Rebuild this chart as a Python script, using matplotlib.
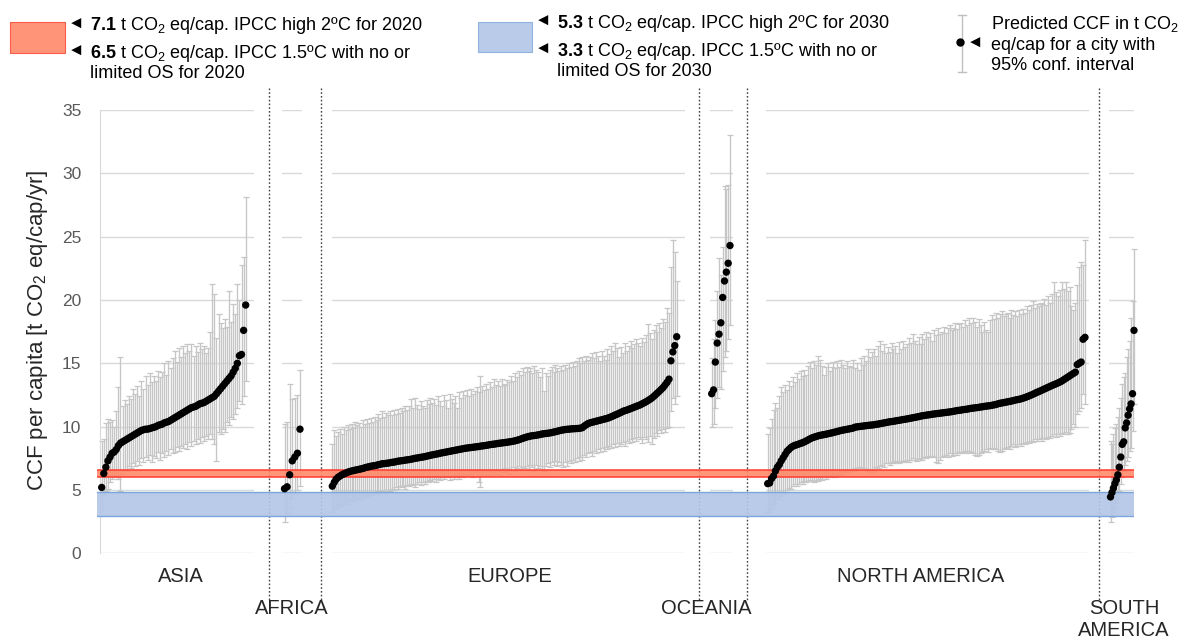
import matplotlib
matplotlib.use('Agg')
import matplotlib.pyplot as plt
from matplotlib.lines import Line2D
from matplotlib.patches import Rectangle
import numpy as np

plt.rcParams['font.family'] = ['Liberation Sans', 'DejaVu Sans']
plt.rcParams['mathtext.fontset'] = 'custom'
plt.rcParams['mathtext.rm'] = 'Liberation Sans'
plt.rcParams['mathtext.bf'] = 'Liberation Sans:bold'
plt.rcParams['mathtext.it'] = 'Liberation Sans:italic'

# ---------------- data ----------------
asia_ccf = [5.2, 6.3, 6.8, 7.3, 7.6, 7.9, 8.0, 8.2, 8.5, 8.7,
            8.8, 8.9, 9.0, 9.1, 9.2, 9.3, 9.4, 9.5, 9.6, 9.7,
            9.75, 9.8, 9.8, 9.85, 9.9, 9.95, 10.0, 10.1, 10.15, 10.2,
            10.3, 10.35, 10.4, 10.5, 10.6, 10.7, 10.8, 10.9, 11.0, 11.1,
            11.2, 11.3, 11.4, 11.5, 11.55, 11.6, 11.7, 11.8, 11.85, 11.9,
            12.0, 12.1, 12.2, 12.3, 12.4, 12.6, 12.8, 13.0, 13.2, 13.4,
            13.6, 13.8, 14.0, 14.3, 14.6, 15.0, 15.6, 15.7, 17.6, 19.6]
asia_hi = [8.9, 9.0, 10.3, 10.6, 10.4, 10.5, 10.0, 11.2, 13.1, 15.5,
           11.6, 12.1, 11.8, 12.4, 12.2, 13.0, 12.6, 13.2, 12.4, 13.6,
           13.0, 14.0, 13.3, 14.2, 13.5, 14.0, 13.6, 14.4, 13.9, 14.3,
           15.0, 14.1, 15.2, 14.6, 15.4, 16.0, 15.1, 16.2, 15.5, 16.4,
           15.8, 16.5, 16.0, 16.5, 15.6, 16.4, 15.9, 16.6, 16.1, 16.4,
           15.8, 16.2, 17.5, 21.3, 20.5, 17.0, 18.9, 18.2, 17.8, 18.5,
           17.9, 20.7, 18.3, 19.7, 18.9, 21.3, 20.0, 22.8, 23.4, 28.1]
asia_lo = [3.5, 4.6, 4.9, 5.1, 5.6, 5.9, 6.2, 6.0, 5.9, 4.9,
           6.3, 6.6, 6.5, 6.9, 6.7, 7.1, 6.9, 7.3, 7.0, 7.5,
           7.2, 7.6, 7.4, 7.8, 7.2, 7.7, 7.5, 8.0, 7.4, 7.9,
           7.6, 8.1, 7.8, 8.2, 7.9, 8.0, 8.4, 8.1, 8.5, 8.3,
           8.6, 8.2, 8.8, 8.5, 8.9, 8.6, 9.0, 8.7, 9.2, 8.9,
           9.3, 9.0, 9.4, 9.0, 8.6, 7.3, 9.6, 9.4, 9.8, 9.6,
           10.4, 10.1, 10.8, 10.6, 11.0, 11.5, 12.0, 11.8, 12.4, 13.6]

africa_ccf = [5.1, 5.25, 6.2, 7.3, 7.6, 7.9, 9.8]
africa_hi = [10.2, 10.4, 13.4, 12.2, 12.3, 12.5, 14.5]
africa_lo = [2.5, 3.2, 3.6, 4.4, 4.7, 5.0, 5.3]

europe_ccf = [5.3, 5.6, 5.85, 6.0, 6.1, 6.2, 6.27, 6.33, 6.4, 6.45,
              6.5, 6.53, 6.57, 6.6, 6.63, 6.67, 6.7, 6.76, 6.8, 6.83,
              6.87, 6.9, 6.92, 6.95, 7.0, 7.03, 7.07, 7.08, 7.1, 7.12,
              7.15, 7.18, 7.2, 7.23, 7.27, 7.29, 7.31, 7.33, 7.36, 7.38,
              7.4, 7.43, 7.46, 7.5, 7.52, 7.55, 7.58, 7.6, 7.63, 7.67,
              7.7, 7.74, 7.77, 7.8, 7.83, 7.86, 7.9, 7.93, 7.96, 7.99,
              8.02, 8.05, 8.08, 8.11, 8.14, 8.17, 8.2, 8.23, 8.26, 8.29,
              8.31, 8.33, 8.35, 8.37, 8.39, 8.41, 8.43, 8.46, 8.48, 8.5,
              8.52, 8.55, 8.58, 8.6, 8.62, 8.64, 8.67, 8.69, 8.71, 8.73,
              8.75, 8.77, 8.8, 8.82, 8.85, 8.88, 8.92, 8.97, 9.02, 9.08,
              9.13, 9.18, 9.22, 9.26, 9.28, 9.3, 9.32, 9.35, 9.38, 9.42,
              9.44, 9.46, 9.48, 9.5, 9.53, 9.57, 9.6, 9.64, 9.68, 9.72,
              9.74, 9.77, 9.79, 9.8, 9.82, 9.83, 9.84, 9.85, 9.86, 9.88,
              9.92, 10.05, 10.15, 10.25, 10.3, 10.34, 10.38, 10.42, 10.46, 10.5,
              10.54, 10.58, 10.62, 10.66, 10.72, 10.78, 10.85, 10.92, 10.98, 11.05,
              11.12, 11.2, 11.26, 11.3, 11.36, 11.42, 11.48, 11.54, 11.6, 11.66,
              11.72, 11.8, 11.88, 11.96, 12.05, 12.15, 12.25, 12.38, 12.52, 12.66,
              12.8, 12.95, 13.1, 13.3, 13.5, 13.75,
              15.2, 15.9, 16.4, 17.1]
europe_hi = [8.6, 9.7, 9.3, 9.6, 9.8, 9.4, 10.0, 9.7, 10.1, 9.8,
             10.2, 9.9, 10.4, 10.1, 10.3, 10.0, 10.5, 10.2, 10.6, 10.3,
             10.7, 10.4, 10.8, 10.5, 11.0, 10.7, 11.2, 10.8, 11.1, 10.9,
             11.2, 10.9, 11.3, 11.0, 11.4, 11.1, 11.5, 11.2, 11.6, 11.3,
             11.6, 12.2, 11.5, 12.3, 11.7, 11.4, 12.0, 11.6, 11.5, 12.1,
             11.8, 12.3, 11.9, 12.2, 11.7, 12.4, 12.0, 11.6, 12.5, 12.1,
             11.5, 12.6, 12.2, 11.9, 12.4, 11.5, 12.7, 12.3, 12.8, 12.5,
             12.9, 12.4, 13.0, 12.6, 12.8, 13.1, 12.7, 14.0, 13.2, 12.9,
             13.4, 13.0, 13.5, 13.1, 13.8, 13.3, 13.6, 13.2, 13.8, 13.4,
             13.3, 13.7, 13.5, 14.0, 13.6, 14.2, 13.9, 14.4, 14.1, 14.6,
             14.3, 14.7, 14.4, 14.6, 14.2, 14.8, 14.5, 14.3, 13.9, 14.6,
             12.8, 14.2, 14.0, 14.5, 14.7, 14.3, 14.9, 14.6, 14.4, 14.8,
             14.5, 14.9, 14.6, 15.0, 14.7, 15.1, 14.8, 15.2, 15.4, 15.0,
             15.5, 15.2, 15.6, 15.3, 15.5, 15.8, 15.4, 15.9, 15.6, 15.2,
             16.0, 15.6, 15.3, 16.1, 15.7, 16.4, 16.0, 16.6, 16.2, 15.5,
             16.3, 15.8, 16.6, 16.0, 16.4, 16.8, 16.2, 16.5, 16.9, 16.6,
             16.4, 17.0, 16.7, 17.2, 18.1, 17.4, 16.9, 17.6, 18.0, 17.5,
             18.2, 17.8, 18.5, 18.3, 19.4, 19.0,
             22.6, 24.7, 23.8, 21.5]
europe_lo = [3.3, 3.5, 3.6, 3.8, 3.9, 3.7, 4.0, 4.1, 3.9, 4.2,
             4.1, 4.3, 4.2, 4.4, 4.3, 4.5, 4.4, 4.6, 4.5, 4.7,
             4.6, 4.7, 4.8, 4.7, 4.9, 4.8, 4.9, 5.0, 4.8, 5.0,
             4.9, 5.1, 5.0, 5.2, 5.1, 5.3, 5.2, 5.3, 5.1, 5.4,
             5.3, 5.5, 5.4, 5.2, 5.5, 5.6, 5.4, 5.6, 5.5, 5.7,
             5.6, 5.8, 5.7, 5.9, 5.6, 5.9, 5.8, 6.0, 5.9, 6.1,
             6.0, 5.8, 6.1, 5.9, 6.2, 6.0, 5.9, 6.2, 6.0, 6.3,
             6.1, 6.3, 6.2, 6.0, 6.4, 6.1, 5.6, 5.2, 6.2, 6.4,
             6.3, 6.5, 6.2, 6.4, 6.6, 6.3, 6.5, 6.2, 6.6, 6.4,
             6.7, 6.5, 6.3, 6.6, 6.8, 6.5, 6.7, 6.9, 6.6, 6.8,
             6.7, 6.9, 6.6, 7.0, 6.8, 6.5, 7.0, 6.7, 6.9, 6.6,
             6.5, 6.9, 7.1, 6.8, 7.2, 7.0, 7.3, 6.9, 7.2, 7.0,
             6.8, 7.2, 6.9, 7.3, 7.1, 7.4, 7.2, 7.5, 7.3, 7.6,
             7.4, 7.8, 7.6, 7.9, 8.0, 7.7, 8.1, 7.9, 8.2, 8.0,
             8.3, 8.1, 8.4, 8.2, 8.5, 8.3, 8.6, 8.4, 8.7, 8.5,
             8.6, 8.8, 8.5, 8.9, 8.7, 9.0, 8.8, 9.1, 8.9, 9.2,
             9.0, 8.7, 9.2, 9.0, 8.8, 9.3, 8.6, 9.1, 9.5, 9.3,
             9.7, 9.5, 9.8, 9.6, 9.9, 10.0,
             11.2, 12.3, 11.8, 12.4]

oceania_ccf = [12.6, 12.9, 15.1, 16.6, 17.3, 18.2, 20.2, 21.5, 22.2, 22.9, 24.3]
oceania_hi = [15.4, 16.9, 18.4, 20.7, 23.3, 22.0, 24.2, 29.0, 28.8, 29.1, 33.0]
oceania_lo = [10.0, 10.2, 11.5, 12.3, 13.1, 13.0, 14.4, 15.5, 16.0, 16.9, 18.0]

namerica_ccf = [5.5, 5.55, 5.9, 6.1, 6.5, 6.8, 7.0, 7.3, 7.55, 7.8,
                8.05, 8.2, 8.35, 8.45, 8.52, 8.57, 8.62, 8.68, 8.73, 8.8,
                8.88, 8.96, 9.05, 9.12, 9.17, 9.22, 9.27, 9.31, 9.34, 9.37,
                9.4, 9.43, 9.47, 9.5, 9.54, 9.58, 9.62, 9.66, 9.7, 9.73,
                9.76, 9.79, 9.82, 9.85, 9.88, 9.95, 9.98, 10.0, 10.02, 10.04,
                10.06, 10.08, 10.1, 10.12, 10.13, 10.15, 10.18, 10.2, 10.23, 10.26,
                10.29, 10.32, 10.35, 10.38, 10.4, 10.42, 10.45, 10.48, 10.5, 10.53,
                10.56, 10.58, 10.61, 10.64, 10.67, 10.7, 10.73, 10.76, 10.79, 10.83,
                10.86, 10.88, 10.91, 10.93, 10.95, 10.98, 11.0, 11.02, 11.04, 11.06,
                11.08, 11.1, 11.12, 11.14, 11.16, 11.18, 11.21, 11.24, 11.27, 11.29,
                11.31, 11.34, 11.36, 11.38, 11.41, 11.44, 11.46, 11.48, 11.5, 11.52,
                11.55, 11.57, 11.6, 11.62, 11.64, 11.66, 11.69, 11.72, 11.75, 11.8,
                11.84, 11.87, 11.9, 11.93, 11.96, 11.99, 12.02, 12.06, 12.1, 12.13,
                12.16, 12.2, 12.25, 12.3, 12.36, 12.42, 12.48, 12.55, 12.62, 12.7,
                12.76, 12.83, 12.9, 12.97, 13.04, 13.11, 13.18, 13.25, 13.32, 13.38,
                13.45, 13.52, 13.6, 13.7, 13.8, 13.9, 14.0, 14.1, 14.2, 14.3,
                14.9, 15.0, 15.1, 16.9, 17.05]
namerica_hi = [9.4, 9.9, 10.6, 11.3, 11.9, 11.5, 12.4, 13.1, 12.7, 13.3,
               12.9, 13.6, 13.2, 13.9, 13.5, 14.2, 13.8, 14.4, 14.0, 14.5,
               14.1, 14.8, 15.07, 14.6, 15.2, 14.9, 15.6, 15.3, 14.8, 14.1,
               14.7, 15.0, 14.4, 14.7, 15.1, 14.6, 15.2, 14.7, 15.3, 14.9,
               14.6, 15.2, 14.8, 14.7, 15.3, 14.6, 15.0, 14.5, 15.4, 14.9,
               15.6, 15.2, 16.1, 15.5, 15.9, 16.1, 15.6, 16.4, 16.8, 16.0,
               16.5, 15.8, 16.3, 15.9, 16.6, 16.1, 16.4, 15.8, 16.7, 16.1,
               16.8, 16.3, 16.5, 17.0, 16.6, 17.3, 16.8, 16.5, 17.1, 16.5,
               17.3, 16.9, 17.5, 17.1, 17.4, 16.8, 17.6, 17.2, 17.8, 17.3,
               17.5, 17.9, 17.4, 17.8, 18.0, 17.6, 17.8, 18.2, 17.7, 18.1,
               18.2, 17.9, 18.4, 18.0, 18.6, 18.2, 18.6, 18.3, 17.9, 18.5,
               18.0, 17.5, 18.3, 17.6, 17.5, 18.4, 18.8, 18.5, 19.0, 18.6,
               18.9, 19.1, 18.7, 18.9, 19.0, 18.6, 19.2, 18.8, 19.1, 18.7,
               19.2, 18.9, 19.3, 19.0, 19.5, 19.2, 19.6, 19.95, 19.4, 19.7,
               19.5, 19.8, 19.7, 20.1, 19.6, 20.3, 19.8, 20.5, 21.4, 20.6,
               20.3, 20.8, 21.4, 20.9, 21.4, 20.7, 21.0, 19.5, 19.2, 19.8,
               21.2, 22.6, 23.0, 22.8, 24.7]
namerica_lo = [3.3, 3.4, 3.6, 3.8, 4.0, 4.25, 4.3, 4.5, 4.67, 4.8,
               5.0, 5.17, 5.1, 5.3, 5.44, 5.35, 5.5, 5.6, 5.5, 5.7,
               5.6, 5.7, 5.8, 5.7, 5.6, 5.8, 5.7, 5.9, 5.8, 6.0,
               5.9, 6.1, 6.0, 6.1, 6.2, 6.0, 6.3, 6.2, 6.4, 6.3,
               6.5, 6.4, 6.5, 6.6, 6.5, 6.7, 6.6, 6.8, 6.7, 6.76,
               6.7, 6.6, 6.5, 6.4, 6.6, 6.5, 6.8, 6.7, 6.9, 7.0,
               6.8, 7.1, 7.15, 7.0, 7.2, 7.1, 7.28, 7.2, 7.1, 7.3,
               7.2, 7.3, 7.4, 7.2, 7.35, 7.5, 7.4, 7.3, 7.42, 7.5,
               7.4, 7.6, 7.5, 7.68, 7.6, 7.7, 7.6, 7.2, 7.15, 7.4,
               7.6, 7.7, 7.8, 7.6, 7.9, 7.7, 7.8, 7.9, 7.8, 8.0,
               7.9, 8.0, 8.07, 7.9, 8.1, 8.0, 7.9, 7.8, 7.7, 7.8,
               7.9, 8.0, 8.1, 8.2, 8.0, 8.3, 8.2, 8.34, 8.2, 8.1,
               8.0, 8.07, 8.2, 8.3, 8.4, 8.2, 8.5, 8.6, 8.4, 8.5,
               8.6, 8.5, 8.7, 8.6, 8.8, 8.7, 8.9, 8.8, 9.0, 8.87,
               9.0, 9.1, 8.9, 9.13, 9.0, 9.2, 9.1, 9.3, 9.4, 9.2,
               9.4, 9.3, 9.5, 9.4, 9.6, 9.4, 9.5, 9.8, 10.2, 10.0,
               10.98, 11.2, 11.5, 12.56, 11.8]

samerica_ccf = [4.45, 4.8, 5.15, 5.5, 5.8, 6.2, 6.8, 7.6, 8.6, 8.8, 9.9, 10.3, 10.9, 11.4, 11.8, 12.6, 17.6]
samerica_hi = [8.9, 8.6, 9.4, 9.9, 10.2, 10.8, 11.5, 12.3, 13.4, 13.9, 14.2, 15.5, 16.1, 16.8, 18.6, 19.95, 24.05]
samerica_lo = [2.5, 2.9, 3.3, 3.6, 4.0, 4.3, 4.9, 5.44, 6.0, 6.5, 7.0, 7.28, 7.6, 8.07, 8.34, 9.66, 11.8]

band_2020 = [6.0, 6.55]   # red band (2020 targets)
band_2030 = [2.95, 4.85]  # blue band (2030 targets)
y_ticks = [0, 5, 10, 15, 20, 25, 30, 35]

# ---------------- layout ----------------
W, H = 1189, 640
fig = plt.figure(figsize=(W / 100, H / 100), dpi=100)
fig.patch.set_facecolor('white')

def fx(px):
    return px / W

def fy(py):
    return 1 - py / H

Y0, Y1 = 553.3, 110.0   # pixel rows of 0 and 35
GRID = '#D9D9D9'
BAR = '#C6C6C6'

panels = [
    # values, hi, lo, axes px x0, x1, first point px, last point px
    (asia_ccf, asia_hi, asia_lo, 100, 254, 101.7, 245.7),
    (africa_ccf, africa_hi, africa_lo, 282, 302, 284.5, 300.0),
    (europe_ccf, europe_hi, europe_lo, 332, 685, 332.3, 676.7),
    (oceania_ccf, oceania_hi, oceania_lo, 710, 733, 711.7, 730.0),
    (namerica_ccf, namerica_hi, namerica_lo, 766, 1089, 767.7, 1085.0),
    (samerica_ccf, samerica_hi, samerica_lo, 1109, 1134, 1110.5, 1134.0),
]

for k, (vals, hi, lo, x0, x1, p0, p1) in enumerate(panels):
    v = np.array(vals)
    hi = np.array(hi)
    lo = np.array(lo)
    n = len(v)
    sp = (p1 - p0) / (n - 1)
    rect = [fx(x0), fy(Y0), (x1 - x0) / W, (Y0 - Y1) / H]
    ax = fig.add_axes(rect, zorder=1)
    ax.set_facecolor('none')
    ax.set_ylim(0, 35)
    ax.set_xlim(-(p0 - x0) / sp, (n - 1) + (x1 - p1) / sp)
    ax.set_yticks(y_ticks)
    ax.grid(axis='y', color=GRID, lw=1.0)
    ax.set_axisbelow(True)
    for s in ax.spines.values():
        s.set_visible(False)
    ax.tick_params(left=False, bottom=False, labelbottom=False, labelleft=False)
    if k == 0:
        ax.spines['left'].set_visible(True)
        ax.spines['left'].set_color(GRID)
        ax.tick_params(labelleft=True, labelsize=12.5, labelcolor='#595959', pad=10)
    xs = np.arange(n)
    cont = ax.errorbar(xs, v, yerr=[v - lo, hi - v], fmt='none', ecolor=BAR,
                       elinewidth=0.95, capsize=2.4, capthick=0.9)
    for art in cont.get_children():
        art.set_clip_on(False)

    axd = fig.add_axes(rect, zorder=3, sharex=ax, sharey=ax)
    axd.set_facecolor('none')
    axd.axis('off')
    axd.scatter(xs, v, s=28, color='black', edgecolors='none', clip_on=False)

# band overlay
axb = fig.add_axes([fx(97), fy(Y0), (1134 - 97) / W, (Y0 - Y1) / H], zorder=2)
axb.set_facecolor('none')
axb.set_ylim(0, 35)
axb.set_xlim(0, 1)
axb.axis('off')
axb.axhspan(band_2020[0], band_2020[1], facecolor='#FF8868', alpha=0.88, lw=0)
axb.axhline(band_2020[0], color='#FF3B30', lw=1.1)
axb.axhline(band_2020[1], color='#FF3B30', lw=1.1)
axb.axhspan(band_2030[0], band_2030[1], facecolor='#B3C6E7', alpha=0.9, lw=0)
axb.axhline(band_2030[0], color='#7AA6DC', lw=1.0)
axb.axhline(band_2030[1], color='#7AA6DC', lw=1.0)

# separators
for sx in [269, 321, 699, 747, 1099]:
    fig.add_artist(Line2D([fx(sx), fx(sx)], [fy(88), fy(600)], color='#444444',
                          lw=1.0, ls=(0, (1.2, 1.5)), transform=fig.transFigure))

# continent labels
lab_kw = dict(fontsize=14.5, color='#262626', ha='center', va='center')
fig.text(fx(181), fy(576), 'ASIA', **lab_kw)
fig.text(fx(510), fy(576), 'EUROPE', **lab_kw)
fig.text(fx(921), fy(576), 'NORTH AMERICA', **lab_kw)
fig.text(fx(292), fy(609), 'AFRICA', **lab_kw)
fig.text(fx(706), fy(609), 'OCEANIA', **lab_kw)
fig.text(fx(1124), fy(609), 'SOUTH', **lab_kw)
fig.text(fx(1124), fy(630), 'AMERICA', **lab_kw)

# y label
fig.text(fx(38), fy(330), 'CCF per capita [t CO$_2$ eq/cap/yr]', rotation=90,
         fontsize=16, color='#262626', ha='center', va='center')

# legend
leg_kw = dict(fontsize=13, color='black', ha='left', va='center_baseline')
arr_kw = dict(fontsize=12, ha='left', va='center_baseline', color='black')
fig.add_artist(Rectangle((fx(10), fy(53)), (65 - 10) / W, (53 - 22) / H,
                         facecolor='#FF9478', edgecolor='#FF5A4A', lw=0.8,
                         transform=fig.transFigure))
fig.text(fx(68), fy(23), '\u25C4', **arr_kw)
fig.text(fx(90), fy(23), r'$\mathbf{7.1}$ t CO$_2$ eq/cap. IPCC high 2ºC for 2020', **leg_kw)
fig.text(fx(68), fy(50), '\u25C4', **arr_kw)
fig.text(fx(90), fy(50), r'$\mathbf{6.5}$ t CO$_2$ eq/cap. IPCC 1.5ºC with no or', **leg_kw)
fig.text(fx(90), fy(72), 'limited OS for 2020', **leg_kw)

fig.add_artist(Rectangle((fx(478), fy(52)), (532 - 478) / W, (52 - 22) / H,
                         facecolor='#BACBEA', edgecolor='#8FB2E0', lw=0.8,
                         transform=fig.transFigure))
fig.text(fx(535), fy(20), '\u25C4', **arr_kw)
fig.text(fx(557), fy(20), r'$\mathbf{5.3}$ t CO$_2$ eq/cap. IPCC high 2ºC for 2030', **leg_kw)
fig.text(fx(535), fy(48), '\u25C4', **arr_kw)
fig.text(fx(557), fy(48), r'$\mathbf{3.3}$ t CO$_2$ eq/cap. IPCC 1.5ºC with no or', **leg_kw)
fig.text(fx(557), fy(70), 'limited OS for 2030', **leg_kw)

fig.add_artist(Line2D([fx(962), fx(962)], [fy(15), fy(72)], color='#BFBFBF', lw=1,
                      transform=fig.transFigure))
for cy in [15, 72]:
    fig.add_artist(Line2D([fx(958), fx(966)], [fy(cy), fy(cy)], color='#BFBFBF', lw=1,
                          transform=fig.transFigure))
fig.add_artist(Line2D([fx(960)], [fy(42)], marker='o', ms=5, color='black', lw=0,
                      transform=fig.transFigure))
fig.text(fx(967), fy(42), '\u25C4', **arr_kw)
fig.text(fx(991), fy(22), 'Predicted CCF in t CO$_2$', **leg_kw)
fig.text(fx(991), fy(43), 'eq/cap for a city with', **leg_kw)
fig.text(fx(991), fy(64), '95% conf. interval', **leg_kw)

fig.savefig('out.png', dpi=100, facecolor='white')
